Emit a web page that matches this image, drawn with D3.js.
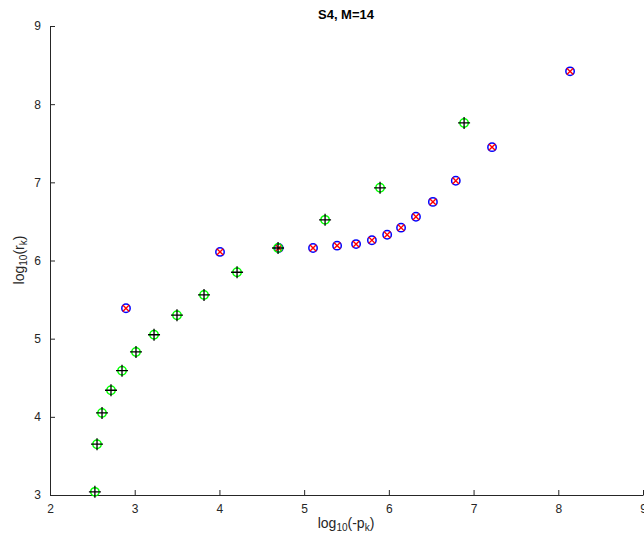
<!DOCTYPE html>
<html>
<head>
<meta charset="utf-8">
<script src="https://cdn.jsdelivr.net/npm/d3@7"></script>
<style>
  body { margin: 0; background: #fff; }
  svg { font-family: "Liberation Sans", Arial, sans-serif; }
</style>
</head>
<body>
<svg id="chart" width="644" height="541"></svg>
<script>
// green circles with black plus
let seriesAx = [2.53, 2.555, 2.614, 2.72, 2.85, 3.015, 3.228, 3.499, 3.818, 4.208, 4.692, 5.247, 5.896, 6.888]
let seriesAy = [3.04, 3.65, 4.05, 4.34, 4.59, 4.83, 5.05, 5.30, 5.56, 5.85, 6.16, 6.52, 6.93, 7.76]
// blue circles with red x
let seriesBx = [2.897, 4.007, 4.70, 5.105, 5.389, 5.613, 5.80, 5.98, 6.144, 6.32, 6.52, 6.79, 7.218, 8.139]
let seriesBy = [5.39, 6.11, 6.16, 6.16, 6.19, 6.21, 6.26, 6.33, 6.42, 6.56, 6.75, 7.02, 7.45, 8.42]
let xTicks = [2, 3, 4, 5, 6, 7, 8, 9]
let yTicks = [3, 4, 5, 6, 7, 8, 9]

let svg = d3.select("#chart")
let x = d3.scaleLinear().domain([2, 9]).range([50, 643])
let y = d3.scaleLinear().domain([3, 9]).range([495, 26])
let axisColor = "#262626"

// axes, MATLAB-style inward ticks
let xAxis = svg.append("g")
  .attr("transform", "translate(0,495)")
  .call(d3.axisBottom(x).tickValues(xTicks).tickFormat(d3.format("d"))
    .tickSizeInner(-5).tickSizeOuter(0).tickPadding(9))
let yAxis = svg.append("g")
  .attr("transform", "translate(50,0)")
  .call(d3.axisLeft(y).tickValues(yTicks).tickFormat(d3.format("d"))
    .tickSizeInner(-5).tickSizeOuter(0).tickPadding(9))
for (let ax of [xAxis, yAxis]) {
  ax.select(".domain").attr("stroke", axisColor).attr("stroke-width", 1)
  ax.selectAll(".tick line").attr("stroke", axisColor)
  ax.selectAll(".tick text").attr("fill", axisColor).attr("font-size", 12)
    .attr("font-family", "Liberation Sans, Arial, sans-serif")
}

// series B: blue circle, red x
let dataB = seriesBx.map((v, i) => ({x: v, y: seriesBy[i]}))
let gB = svg.append("g").selectAll("g").data(dataB).enter().append("g")
  .attr("transform", d => `translate(${x(d.x)},${y(d.y)})`)
gB.append("circle").attr("r", 4.2).attr("fill", "none").attr("stroke", "#0000ff").attr("stroke-width", 1.5)
gB.append("path").attr("d", "M-3.2,-3.2L3.2,3.2M-3.2,3.2L3.2,-3.2").attr("stroke", "#ff0000").attr("stroke-width", 1.4)

// series A: green circle, black plus
let dataA = seriesAx.map((v, i) => ({x: v, y: seriesAy[i]}))
let gA = svg.append("g").selectAll("g").data(dataA).enter().append("g")
  .attr("transform", d => `translate(${x(d.x)},${y(d.y)})`)
gA.append("circle").attr("r", 4.2).attr("fill", "none").attr("stroke", "#00ff00").attr("stroke-width", 1.5)
gA.append("path").attr("d", "M-6,0L6,0M0,-6L0,6").attr("stroke", "#000").attr("stroke-width", 1.3)

// labels
svg.append("text").attr("x", 346).attr("y", 19).attr("text-anchor", "middle")
  .attr("font-size", 13).attr("font-weight", "bold").attr("fill", "#000").text("S4, M=14")

let xl = svg.append("text").attr("x", 346).attr("y", 528).attr("text-anchor", "middle")
  .attr("font-size", 14).attr("fill", axisColor)
xl.append("tspan").text("log")
xl.append("tspan").attr("font-size", 10).attr("dy", 3).text("10")
xl.append("tspan").attr("dy", -3).text("(-p")
xl.append("tspan").attr("font-size", 10).attr("dy", 3).text("k")
xl.append("tspan").attr("dy", -3).text(")")

let yl = svg.append("text").attr("transform", "translate(24,260) rotate(-90)").attr("text-anchor", "middle")
  .attr("font-size", 14).attr("fill", axisColor)
yl.append("tspan").text("log")
yl.append("tspan").attr("font-size", 10).attr("dy", 3).text("10")
yl.append("tspan").attr("dy", -3).text("(r")
yl.append("tspan").attr("font-size", 10).attr("dy", 3).text("k")
yl.append("tspan").attr("dy", -3).text(")")
</script>
</body>
</html>
